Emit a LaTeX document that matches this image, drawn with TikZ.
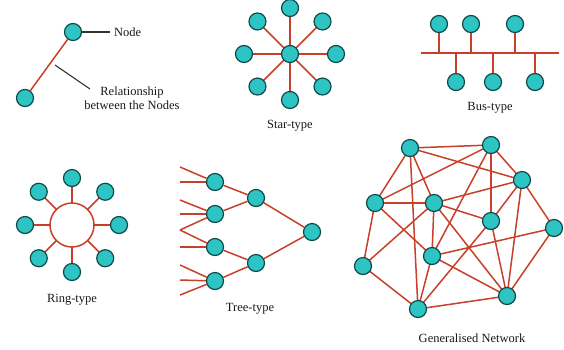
\documentclass[tikz,border=0pt]{standalone}
\usepackage{fontspec}
\setmainfont{Liberation Serif}
\usetikzlibrary{calc}
\definecolor{nodefill}{HTML}{2EC4C4}
\definecolor{nodeline}{HTML}{0F4A4A}
\definecolor{linkred}{HTML}{C8402A}
\tikzset{
  nd/.style={circle, fill=nodefill, draw=nodeline, line width=1.2pt, minimum size=17pt, inner sep=0pt},
  link/.style={draw=linkred, line width=1.5pt},
  pointer/.style={draw=black!80, line width=1.1pt},
  lbl/.style={font=\fontsize{12.5}{14}\selectfont, text=black!90, inner sep=0pt, align=center}
}
\begin{document}
\begin{tikzpicture}[x=1pt, y=-1pt]
\useasboundingbox[fill=white] (0,0) rectangle (564,349);

% ---- legend ----
\node[nd] (n1) at (73,32) {};
\node[nd] (n2) at (25,98) {};
\draw[link] (n1) -- (n2);
\node[lbl, anchor=west] (lnode) at (114,32) {Node};
\coordinate (pn) at (110,32);
\draw[pointer] (n1.east) -- (pn);
\node[lbl] (lrel) at (132,98) {Relationship\\between the Nodes};
\coordinate (pr1) at (55,65);
\coordinate (pr2) at (90,89);
\draw[pointer] (pr1) -- (pr2);

% ---- star ----
\coordinate (scc) at (290,54);
\foreach \a [count=\i] in {0,45,...,315} {
  \coordinate (sp\i) at ($(scc)+(\a:46)$);
  \draw[link] (scc) -- (sp\i);
}
\node[nd] (sc) at (scc) {};
\foreach \i in {1,...,8} { \node[nd] (s\i) at (sp\i) {}; }
\node[lbl] (tstar) at (290,126) {Star-type};

% ---- bus ----
\coordinate (b0) at (421,53);
\coordinate (b9) at (559,53);
\draw[link] (b0) -- (b9);
\foreach \x/\y [count=\i] in {439/24,471/24,515/24,456/82,493/82,535/82} {
  \coordinate (bb\i) at (\x,53);
  \node[nd] (bn\i) at (\x,\y) {};
  \draw[link] (bn\i) -- (bb\i);
}
\node[lbl] (tbus) at (490,108) {Bus-type};

% ---- ring ----
\coordinate (rc) at (72,225);
\foreach \a [count=\i] in {0,45,...,315} {
  \coordinate (rp\i) at ($(rc)+(\a:47)$);
  \draw[link] (rc) -- (rp\i);
}
\node[circle, draw=linkred, line width=1.5pt, fill=white, minimum size=44pt, inner sep=0pt] (ring) at (rc) {};
\foreach \i in {1,...,8} { \node[nd] (r\i) at (rp\i) {}; }
\node[lbl] (tring) at (72,300) {Ring-type};

% ---- tree ----
\node[nd] (l1) at (215,182) {};
\node[nd] (l2) at (215,214) {};
\node[nd] (l3) at (215,247) {};
\node[nd] (l4) at (215,281) {};
\node[nd] (m1) at (256,198) {};
\node[nd] (m2) at (256,263) {};
\node[nd] (rt) at (312,232) {};
\foreach \y in {167,182} { \coordinate (f) at (180,\y); \draw[link] (f) -- (l1); }
\foreach \y in {200,214,230} { \coordinate (f) at (180,\y); \draw[link] (f) -- (l2); }
\foreach \y in {230,247} { \coordinate (f) at (180,\y); \draw[link] (f) -- (l3); }
\foreach \y in {265,280,295} { \coordinate (f) at (180,\y); \draw[link] (f) -- (l4); }
\draw[link] (l1) -- (m1); \draw[link] (l2) -- (m1);
\draw[link] (l3) -- (m2); \draw[link] (l4) -- (m2);
\draw[link] (m1) -- (rt); \draw[link] (m2) -- (rt);
\node[lbl] (ttree) at (250,309) {Tree-type};

% ---- generalised network ----
\foreach \n/\x/\y in {A/410/148, B/491/145, C/522/180, D/375/203, E/434/203, F/491/221, G/554/228, H/432/256, I/363/266, J/507/296, K/418/309} {
  \coordinate (g\n) at (\x,\y);
}
\foreach \u/\v in {A/B, A/C, A/D, A/E, A/K, B/C, B/D, B/F, B/H, C/E, C/F, C/G, C/J, D/E, D/H, D/I, E/F, E/H, E/I, E/J, F/J, F/K, G/H, G/J, H/J, H/K, I/K, J/K} {
  \draw[link] (g\u) -- (g\v);
}
\foreach \n in {A,B,C,D,E,F,G,H,I,J,K} { \node[nd] (gn\n) at (g\n) {}; }
\node[lbl] (tgen) at (472,338) {Generalised Network};
\end{tikzpicture}
\end{document}
